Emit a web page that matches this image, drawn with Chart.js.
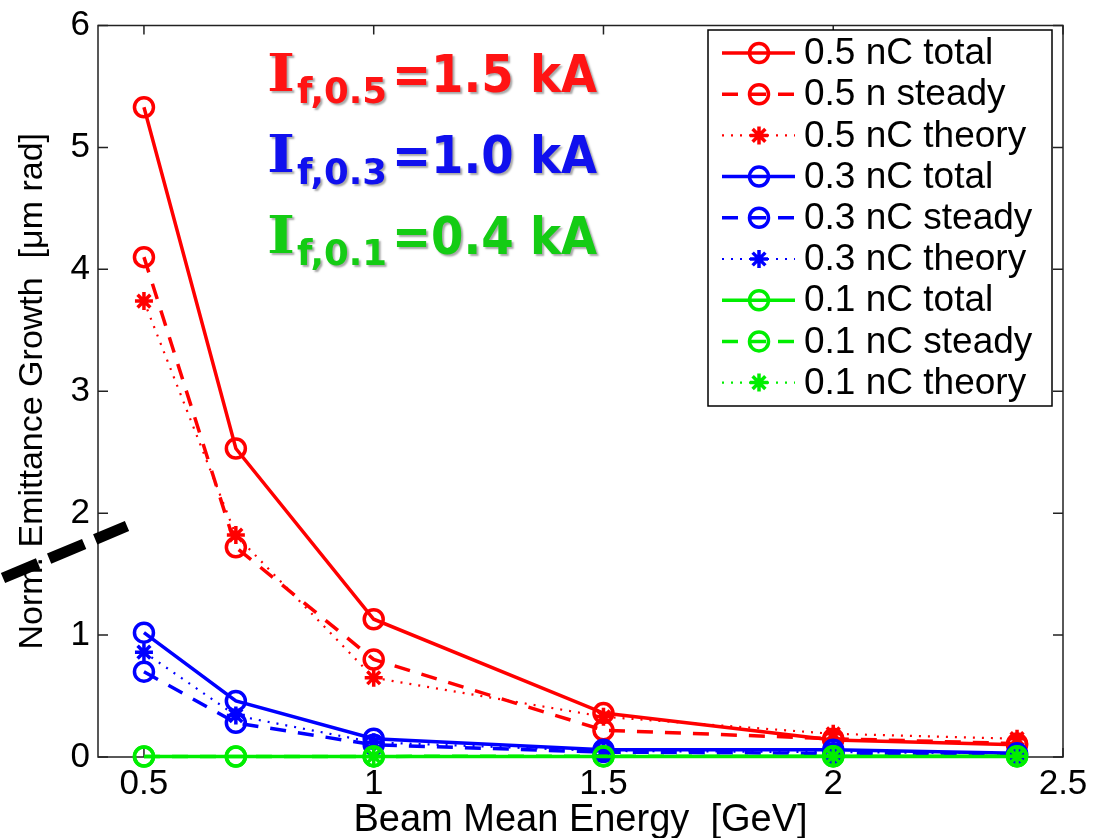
<!DOCTYPE html>
<html lang="en">
<head>
    <meta charset="UTF-8">
    <title>Emittance growth vs beam energy</title>
    <script src="https://cdn.jsdelivr.net/npm/chart.js"></script>
    <style>
        body {
            margin: 0;
            background-color: #fff;
        }
        #chartContainer {
            width: 1105px;
            height: 838px;
            position: relative;
        }
    </style>
</head>
<body>
    <div id="chartContainer">
        <canvas id="myChartCanvas"></canvas>
    </div>

<script>
    // beam energy [GeV]
    var energy = [0.5, 0.7, 1.0, 1.5, 2.0, 2.4];

    // emittance growth [um rad]
    var total05  = [5.33, 2.53, 1.13, 0.36, 0.14, 0.10];
    var steady05 = [4.10, 1.72, 0.80, 0.22, 0.15, 0.11];
    var theory05 = [3.74, 1.82, 0.65, 0.33, 0.19, 0.15];
    var total03  = [1.02, 0.46, 0.15, 0.06, 0.06, 0.03];
    var steady03 = [0.70, 0.28, 0.10, 0.04, 0.03, 0.02];
    var theory03 = [0.86, 0.34, 0.12, 0.05, 0.04, 0.03];
    var total01  = [0.004, 0.004, 0.005, 0.005, 0.005, 0.005];
    var steady01 = [0.004, 0.004, 0.005, 0.006, 0.006, 0.006];
    var theory01 = [null, null, 0.005, null, 0.006, 0.006];

    var legendLabels = ['0.5 nC total', '0.5 n steady', '0.5 nC theory',
                        '0.3 nC total', '0.3 nC steady', '0.3 nC theory',
                        '0.1 nC total', '0.1 nC steady', '0.1 nC theory'];

    var xTicks = [0.5, 1, 1.5, 2, 2.5];
    var yTicks = [0, 1, 2, 3, 4, 5, 6];

    var annotations = [
        { sub: 'f,0.5', value: '=1.5 kA', color: '#ff1414' },
        { sub: 'f,0.3', value: '=1.0 kA', color: '#1010ee' },
        { sub: 'f,0.1', value: '=0.4 kA', color: '#14cc14' }
    ];

    var RED = '#ff0000', BLUE = '#0000ff', GREEN = '#00ee00';

    function pts(ys) {
        return energy.map(function(x, i) { return { x: x, y: ys[i] }; });
    }

    function makeSet(label, ys, color, kind, order) {
        var ds = {
            label: label,
            data: pts(ys),
            borderColor: color,
            pointBorderColor: color,
            pointBackgroundColor: 'rgba(0,0,0,0)',
            backgroundColor: 'rgba(0,0,0,0)',
            pointBorderWidth: 3.5,
            borderWidth: 3.5,
            tension: 0,
            spanGaps: true,
            clip: false,
            order: order
        };
        if (kind === 'total') {
            ds.pointStyle = 'circle'; ds.pointRadius = 9.5;
        } else if (kind === 'steady') {
            ds.pointStyle = 'circle'; ds.pointRadius = 9.5; ds.borderDash = [16, 12];
        } else {
            ds.pointStyle = 'star'; ds.pointRadius = 9; ds.borderWidth = 2.2; ds.borderDash = [2, 7];
        }
        return ds;
    }

    function drawMarker(ctx, style, r, x, y) {
        ctx.beginPath();
        if (style === 'circle') {
            ctx.arc(x, y, r, 0, Math.PI * 2);
        } else {
            for (var k = 0; k < 4; k++) {
                var a = k * Math.PI / 4;
                ctx.moveTo(x - r * Math.cos(a), y - r * Math.sin(a));
                ctx.lineTo(x + r * Math.cos(a), y + r * Math.sin(a));
            }
        }
        ctx.stroke();
    }

    // stretch / squeeze a text to a given width
    function fitText(ctx, text, x, y, width) {
        var w = ctx.measureText(text).width;
        ctx.save();
        ctx.translate(x, y);
        ctx.scale(width / w, 1);
        ctx.fillText(text, 0, 0);
        ctx.restore();
    }

    var frame = {
        id: 'frame',
        beforeDatasetsDraw: function(chart) {
            var ctx = chart.ctx, a = chart.chartArea;
            var sx = chart.scales.x, sy = chart.scales.y;
            ctx.save();
            ctx.strokeStyle = '#222';
            ctx.lineWidth = 1.5;
            ctx.strokeRect(a.left, a.top, a.right - a.left, a.bottom - a.top);
            ctx.beginPath();
            xTicks.forEach(function(v) {
                var px = sx.getPixelForValue(v);
                ctx.moveTo(px, a.bottom); ctx.lineTo(px, a.bottom - 9);
                ctx.moveTo(px, a.top); ctx.lineTo(px, a.top + 9);
            });
            yTicks.forEach(function(v) {
                var py = sy.getPixelForValue(v);
                ctx.moveTo(a.left, py); ctx.lineTo(a.left + 10, py);
                ctx.moveTo(a.right, py); ctx.lineTo(a.right - 10, py);
            });
            ctx.stroke();
            ctx.restore();
        },
        afterDraw: function(chart) {
            var ctx = chart.ctx;
            ctx.save();

            // legend box
            ctx.fillStyle = '#fff';
            ctx.fillRect(708, 30, 344, 376);
            ctx.strokeStyle = '#000';
            ctx.lineWidth = 1.5;
            ctx.strokeRect(708, 30, 344, 376);
            chart.data.datasets.forEach(function(ds, i) {
                var y = 53 + i * 41.2;
                ctx.strokeStyle = ds.borderColor;
                ctx.lineWidth = ds.borderWidth;
                ctx.setLineDash(ds.borderDash || []);
                ctx.beginPath();
                ctx.moveTo(722, y); ctx.lineTo(795, y);
                ctx.stroke();
                ctx.setLineDash([]);
                ctx.lineWidth = ds.pointBorderWidth;
                drawMarker(ctx, ds.pointStyle, ds.pointRadius, 759, y);
                ctx.fillStyle = '#000';
                ctx.font = '37px "Liberation Sans", Arial, sans-serif';
                ctx.textBaseline = 'middle';
                ctx.textAlign = 'left';
                ctx.fillText(ds.label, 804, y + 1);
            });

            // current annotations
            ctx.shadowColor = 'rgba(0,0,0,0.35)';
            ctx.shadowOffsetX = 2;
            ctx.shadowOffsetY = 2;
            ctx.shadowBlur = 2;
            ctx.textBaseline = 'alphabetic';
            annotations.forEach(function(an, i) {
                var base = 91 + i * 81;
                ctx.fillStyle = an.color;
                ctx.font = 'bold 52px "DejaVu Serif", serif';
                fitText(ctx, 'I', 267, base, 28);
                ctx.font = 'bold 35px "DejaVu Sans", sans-serif';
                fitText(ctx, an.sub, 297, base + 12, 90);
                ctx.font = 'bold 52px "DejaVu Sans", sans-serif';
                fitText(ctx, an.value, 392, base + 1, 205);
            });
            ctx.shadowColor = 'rgba(0,0,0,0)';

            // thick black dashed stroke over the y label
            ctx.strokeStyle = '#000';
            ctx.lineWidth = 11;
            ctx.setLineDash([38, 12]);
            ctx.beginPath();
            ctx.moveTo(3, 578);
            ctx.lineTo(127, 526);
            ctx.stroke();
            ctx.restore();
        }
    };

    var ctx = document.getElementById('myChartCanvas').getContext('2d');
    var myChart = new Chart(ctx, {
        type: 'line',
        data: {
            datasets: [
                makeSet(legendLabels[0], total05, RED, 'total', 9),
                makeSet(legendLabels[1], steady05, RED, 'steady', 8),
                makeSet(legendLabels[2], theory05, RED, 'theory', 7),
                makeSet(legendLabels[3], total03, BLUE, 'total', 6),
                makeSet(legendLabels[4], steady03, BLUE, 'steady', 5),
                makeSet(legendLabels[5], theory03, BLUE, 'theory', 4),
                makeSet(legendLabels[6], total01, GREEN, 'total', 3),
                makeSet(legendLabels[7], steady01, GREEN, 'steady', 2),
                makeSet(legendLabels[8], theory01, GREEN, 'theory', 1)
            ]
        },
        plugins: [frame],
        options: {
            maintainAspectRatio: false,
            responsive: true,
            animation: false,
            layout: { padding: { left: 0, right: 42, top: 19, bottom: 0 } },
            plugins: {
                legend: { display: false },
                tooltip: { enabled: false }
            },
            scales: {
                x: {
                    type: 'linear',
                    min: 0.4,
                    max: 2.5,
                    afterBuildTicks: function(s) { s.ticks = xTicks.map(function(v) { return { value: v }; }); },
                    afterFit: function(s) { s.height = 81; },
                    grid: { display: false, drawTicks: false },
                    border: { display: false },
                    ticks: {
                        color: '#000',
                        padding: 10,
                        maxRotation: 0,
                        font: { family: '"Liberation Sans", Arial, sans-serif', size: 35, lineHeight: 1.0 },
                        callback: function(v) { return String(v); }
                    },
                    title: {
                        display: true,
                        text: 'Beam Mean Energy  [GeV]',
                        color: '#000',
                        padding: { top: 0, bottom: 0 },
                        font: { family: '"Liberation Sans", Arial, sans-serif', size: 38, lineHeight: 0.9 }
                    }
                },
                y: {
                    min: 0,
                    max: 6,
                    afterBuildTicks: function(s) { s.ticks = yTicks.map(function(v) { return { value: v }; }); },
                    afterFit: function(s) { s.width = 98; },
                    grid: { display: false, drawTicks: false },
                    border: { display: false },
                    ticks: {
                        color: '#000',
                        padding: 8,
                        font: { family: '"Liberation Sans", Arial, sans-serif', size: 35, lineHeight: 1.0 }
                    },
                    title: {
                        display: true,
                        text: 'Norm. Emittance Growth  [\u03bcm rad]',
                        color: '#000',
                        padding: { top: 12, bottom: 0 },
                        font: { family: '"Liberation Sans", Arial, sans-serif', size: 34, lineHeight: 1.2 }
                    }
                }
            }
        }
    });
</script>
</body>
</html>
